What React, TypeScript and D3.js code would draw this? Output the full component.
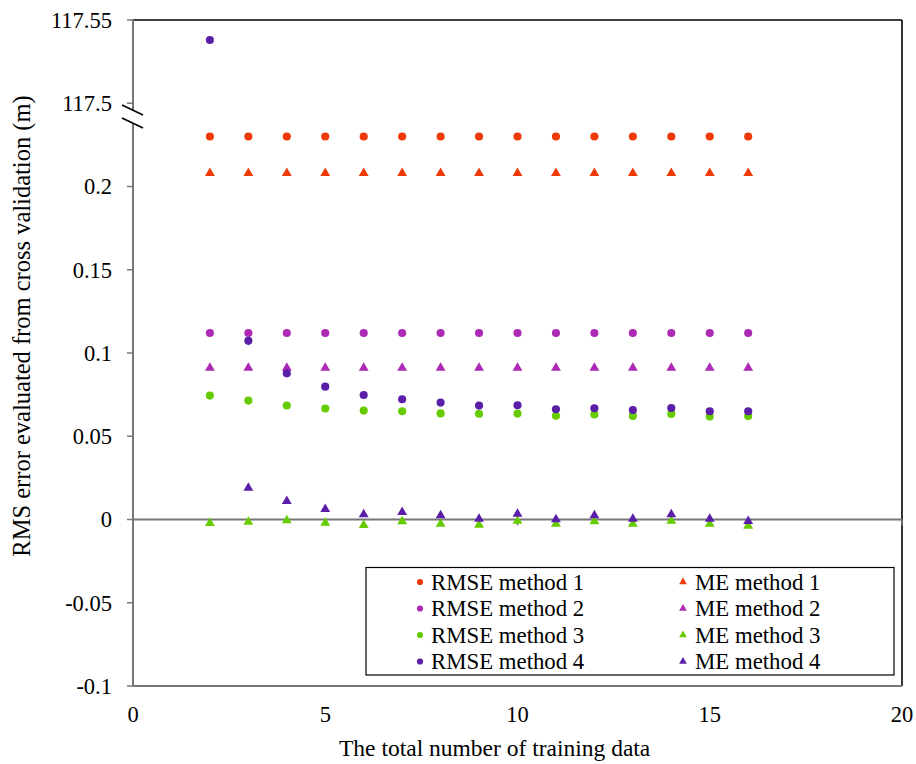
import React from "react";
import * as d3 from "d3";

const nTrain = [2, 3, 4, 5, 6, 7, 8, 9, 10, 11, 12, 13, 14, 15, 16];
const rmse1 = [0.230, 0.230, 0.230, 0.230, 0.230, 0.230, 0.230, 0.230, 0.230, 0.230, 0.230, 0.230, 0.230, 0.230, 0.230];
const me1 = [0.208, 0.208, 0.208, 0.208, 0.208, 0.208, 0.208, 0.208, 0.208, 0.208, 0.208, 0.208, 0.208, 0.208, 0.208];
const rmse2 = [0.112, 0.112, 0.112, 0.112, 0.112, 0.112, 0.112, 0.112, 0.112, 0.112, 0.112, 0.112, 0.112, 0.112, 0.112];
const me2 = [0.091, 0.091, 0.091, 0.091, 0.091, 0.091, 0.091, 0.091, 0.091, 0.091, 0.091, 0.091, 0.091, 0.091, 0.091];
const rmse3 = [0.0744, 0.0714, 0.0685, 0.0667, 0.0654, 0.065, 0.0637, 0.0635, 0.0636, 0.0623, 0.0631, 0.0622, 0.0634, 0.0619, 0.0621];
const me3 = [-0.0022, -0.0014, -0.0006, -0.002, -0.0034, -0.0012, -0.0026, -0.0032, -0.0008, -0.0026, -0.0012, -0.0026, -0.0008, -0.0026, -0.0038];
const rmse4 = [117.538, 0.1073, 0.0878, 0.0798, 0.0748, 0.0722, 0.0702, 0.0684, 0.0686, 0.0662, 0.0668, 0.0658, 0.067, 0.065, 0.065];
const me4: (number | null)[] = [null, 0.019, 0.011, 0.0062, 0.003, 0.0044, 0.0024, 0.0004, 0.0034, 0.0, 0.0024, 0.0004, 0.003, 0.0004, -0.001];

// broken axis: lower segment -0.1..0.25, upper segment 117.5..117.55
const breakOffset = 117.25;
const yTickValues = [-0.1, -0.05, 0, 0.05, 0.1, 0.15, 0.2, 0.25, 0.3];
const yTickLabels = ["-0.1", "-0.05", "0", "0.05", "0.1", "0.15", "0.2", "117.5", "117.55"];
const xTickValues = [0, 5, 10, 15, 20];

const seriesNames = ["RMSE method 1", "ME method 1", "RMSE method 2", "ME method 2", "RMSE method 3", "ME method 3", "RMSE method 4", "ME method 4"];
const seriesColors = ["#EE3A06", "#EE3A06", "#AC2AB4", "#AC2AB4", "#66CC00", "#66CC00", "#5A1EA8", "#5A1EA8"];
const seriesShapes = ["circle", "triangle", "circle", "triangle", "circle", "triangle", "circle", "triangle"];
const seriesValues = [rmse1, me1, rmse2, me2, rmse3, me3, rmse4, me4];

const W = 916, H = 764;
const L = 133, R = 902, T = 20, B = 686;
const FONT = "'Liberation Serif', 'Times New Roman', serif";

export default function App() {
  const x = d3.scaleLinear().domain([0, 20]).range([L, R]);
  const yLin = d3.scaleLinear().domain([-0.1, 0.3]).range([B, T]);
  const y = (v: number) => (v > 1 ? yLin(v - breakOffset) : yLin(v));
  const circle = d3.symbol().type(d3.symbolCircle).size(52)()!;
  const tri = d3.symbol().type(d3.symbolTriangle).size(42)()!;
  const circleS = d3.symbol().type(d3.symbolCircle).size(30)()!;
  const triS = d3.symbol().type(d3.symbolTriangle).size(26)()!;
  const y0 = yLin(0);
  const yBreak = 117;

  const legendRows = [582, 608.5, 635, 661.5];

  return (
    <svg width={W} height={H} style={{ position: "absolute", left: 0, top: 0, background: "#fff" }} fontFamily={FONT}>
      <rect x={0} y={0} width={W} height={H} fill="#fff" />
      {/* frame */}
      <line x1={L} x2={R} y1={T} y2={T} stroke="#000" strokeWidth={1.6} />
      <line x1={R} x2={R} y1={T} y2={B} stroke="#000" strokeWidth={1.6} />
      <line x1={L} x2={R} y1={B} y2={B} stroke="#777" strokeWidth={2} />
      {/* zero line with ticks */}
      <line x1={L} x2={R} y1={y0} y2={y0} stroke="#777" strokeWidth={2} />
      {xTickValues.map((t) => (
        <g key={"xt" + t}>
          <line x1={x(t)} x2={x(t)} y1={y0} y2={y0 + 6} stroke="#777" strokeWidth={1.5} />
          <text x={x(t)} y={722} fontSize={22.5} textAnchor="middle" fill="#000">{t}</text>
        </g>
      ))}
      {/* y axis */}
      <line x1={L} x2={L} y1={T} y2={B} stroke="#777" strokeWidth={2} />
      {yTickValues.map((t, i) => (
        <g key={"yt" + i}>
          <line x1={L - 6} x2={L} y1={yLin(t)} y2={yLin(t)} stroke="#777" strokeWidth={1.5} />
          <text x={112} y={yLin(t)} dy="0.35em" fontSize={22.5} textAnchor="end" fill="#000">{yTickLabels[i]}</text>
        </g>
      ))}
      {/* axis break */}
      <polygon points={`${L - 11},${yBreak - 12} ${L + 10},${yBreak - 2} ${L + 10},${yBreak + 11} ${L - 11},${yBreak + 1}`} fill="#fff" />
      <line x1={L - 11} x2={L + 10} y1={yBreak - 12} y2={yBreak - 2} stroke="#000" strokeWidth={1.6} />
      <line x1={L - 11} x2={L + 10} y1={yBreak + 1} y2={yBreak + 11} stroke="#000" strokeWidth={1.6} />

      {/* points */}
      {seriesValues.map((vals, si) => (
        <g key={"s" + si} fill={seriesColors[si]}>
          {vals.map((v, i) =>
            v === null ? null : (
              <path key={i} d={seriesShapes[si] === "circle" ? circle : tri} transform={`translate(${x(nTrain[i])},${y(v as number)})`} />
            )
          )}
        </g>
      ))}

      {/* legend */}
      <rect x={366} y={567.5} width={528} height={107.5} fill="#fff" stroke="#000" strokeWidth={1.2} />
      {seriesNames.map((name, si) => {
        const col = si % 2;
        const row = Math.floor(si / 2);
        const mx = col === 0 ? 420 : 683;
        const tx = col === 0 ? 431 : 695;
        const yy = legendRows[row];
        return (
          <g key={"lg" + si}>
            <path d={seriesShapes[si] === "circle" ? circleS : triS} transform={`translate(${mx},${yy})`} fill={seriesColors[si]} />
            <text x={tx} y={yy} dy="0.35em" fontSize={22.8} fill="#000">{name}</text>
          </g>
        );
      })}

      {/* axis titles */}
      <text x={339} y={756} fontSize={23.5} textAnchor="start" fill="#000">The total number of training data</text>
      <text transform={`translate(30,326) rotate(-90)`} fontSize={24.5} textAnchor="middle" fill="#000">RMS error evaluated from cross validation (m)</text>
    </svg>
  );
}
